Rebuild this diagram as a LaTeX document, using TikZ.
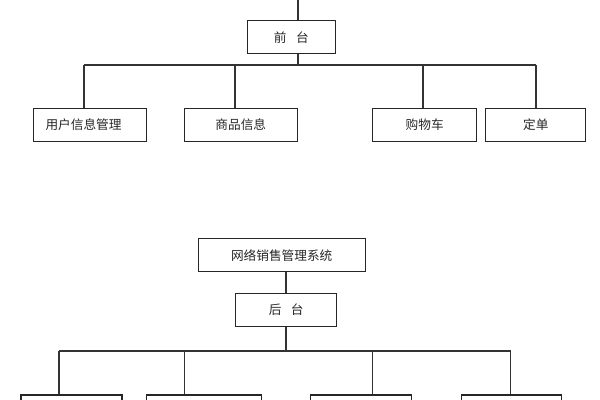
\documentclass[tikz,border=0pt]{standalone}
\usepackage{fontspec}
\setmainfont{Noto Sans CJK SC}
\usetikzlibrary{calc}
\newcommand{\pxu}{0.75pt}
\newcommand{\spazio}{\hspace{0.75em}}

\begin{document}
\begin{tikzpicture}[x=0.75pt, y=-0.75pt,
    box/.style = {draw=black!85, line width=0.8pt, inner sep=0pt, minimum height=33*\pxu, font=\fontsize{9.5}{11}\selectfont, text=black!85},
    link/.style = {draw=black!80, line width=0.8pt}]
    % Pagina
    \useasboundingbox (0,0) rectangle (600,400);
    \clip (0,0) rectangle (600,400);
    % Front end
    \node[box, minimum width=88*\pxu] (qiantai) at (291.3,37.2) {前\spazio 台};
    \node[box, text width=89*\pxu, inner xsep=12*\pxu, align=left] (yonghu) at (90,124.7) {用户信息管理};
    \node[box, minimum width=113*\pxu] (shangpin) at (240.8,124.7) {商品信息};
    \node[box, minimum width=104*\pxu] (gouwuche) at (424.7,124.7) {购物车};
    \node[box, minimum width=100.3*\pxu] (dingdan) at (535.8,124.7) {定单};
    % Connettori front end
    \coordinate (padre) at (298,0);
    \coordinate (barra) at (298,65);
    \coordinate (f1) at (84,65);
    \coordinate (f2) at (235,65);
    \coordinate (f3) at (423,65);
    \coordinate (f4) at (536,65);
    \draw[link] (padre) -- (padre |- qiantai.north);
    \draw[link] (barra |- qiantai.south) -- (barra);
    \draw[link] (f1) -- (f4);
    \foreach \b/\n in {f1/yonghu, f2/shangpin, f3/gouwuche, f4/dingdan}
        \draw[link] (\b) -- (\b |- \n.north);
    % Back end
    \node[box, minimum width=166.7*\pxu] (xitong) at (281.7,255.3) {网络销售管理系统};
    \node[box, minimum width=101*\pxu] (houtai) at (286.2,310) {后\spazio 台};
    \node[box, minimum width=101*\pxu] (h1) at (71.5,411.5) {};
    \node[box, minimum width=114.5*\pxu] (h2) at (204.2,411.5) {};
    \node[box, minimum width=100.5*\pxu] (h3) at (361.2,411.5) {};
    \node[box, minimum width=100.5*\pxu] (h4) at (511.7,411.5) {};
    % Connettori back end
    \coordinate (asse) at (286,351);
    \coordinate (g1) at (59,351);
    \coordinate (g2) at (184.3,351);
    \coordinate (g3) at (372.7,351);
    \coordinate (g4) at (510.7,351);
    \draw[link] (asse |- xitong.south) -- (asse |- houtai.north);
    \draw[link] (asse |- houtai.south) -- (asse);
    \draw[link] (g1) -- (g4);
    \foreach \b/\n in {g1/h1, g2/h2, g3/h3, g4/h4}
        \draw[link] (\b) -- (\b |- \n.north);
\end{tikzpicture}
\end{document}
